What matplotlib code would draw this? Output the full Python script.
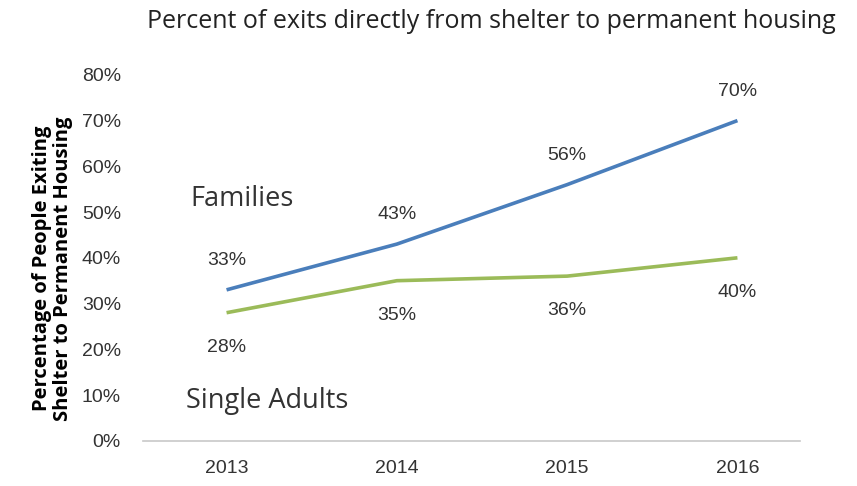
import matplotlib
matplotlib.use("Agg")
import matplotlib.pyplot as plt
from matplotlib.ticker import FuncFormatter

years = ["2013", "2014", "2015", "2016"]
families = [0.33, 0.43, 0.56, 0.70]
singles = [0.28, 0.35, 0.36, 0.40]

BLUE = "#4a7ebb"
GREEN = "#9bbb59"
TXT = "#333333"
SANS = ["Open Sans", "DejaVu Sans"]

plt.rcParams["font.family"] = ["Liberation Sans", "DejaVu Sans"]

fig = plt.figure(figsize=(8.57, 4.86), dpi=100)
ax = fig.add_axes([0.167, 0.093, 0.767, 0.753])

x = list(range(len(years)))
ax.plot(x, families, color=BLUE, lw=2.6, solid_capstyle="butt")
ax.plot(x, singles, color=GREEN, lw=2.6, solid_capstyle="butt")

# data labels: families above the line, single adults below
for xi, v in zip(x, families):
    ax.annotate(f"{round(v*100)}%", (xi, v), xytext=(0, 21), textcoords="offset points",
                ha="center", va="center", fontsize=14, color=TXT)
for xi, v in zip(x, singles):
    ax.annotate(f"{round(v*100)}%", (xi, v), xytext=(0, -25), textcoords="offset points",
                ha="center", va="center", fontsize=14, color=TXT)

ax.text(-0.215, 0.528, "Families", fontsize=19.5, color=TXT, family=SANS,
        ha="left", va="center")
ax.text(-0.24, 0.088, "Single Adults", fontsize=19.5, color=TXT, family=SANS,
        ha="left", va="center")

ax.set_xlim(-0.49, 3.37)
ax.set_ylim(0, 0.8)
ax.set_yticks([i / 10 for i in range(9)])
ax.yaxis.set_major_formatter(FuncFormatter(lambda v, p: f"{round(v*100)}%"))
ax.set_xticks(x)
ax.set_xticklabels(years)
ax.tick_params(axis="both", length=0, labelsize=14, colors=TXT)
ax.tick_params(axis="y", pad=16)
ax.tick_params(axis="x", pad=14)
for s in ["top", "right", "left"]:
    ax.spines[s].set_visible(False)
ax.spines["bottom"].set_color("#c8c8c8")
ax.spines["bottom"].set_linewidth(1.2)

ax.set_ylabel("Percentage of People Exiting\nShelter to Permanent Housing", fontsize=14.5,
              fontweight="bold", color="black", family=SANS, linespacing=1.1,
              va="center")
ax.yaxis.set_label_coords(-0.138, 0.47)

fig.text(0.573, 0.955, "Percent of exits directly from shelter to permanent housing",
         ha="center", va="center", fontsize=18, color="#222222", family=SANS)

fig.savefig("out.png", dpi=100)
